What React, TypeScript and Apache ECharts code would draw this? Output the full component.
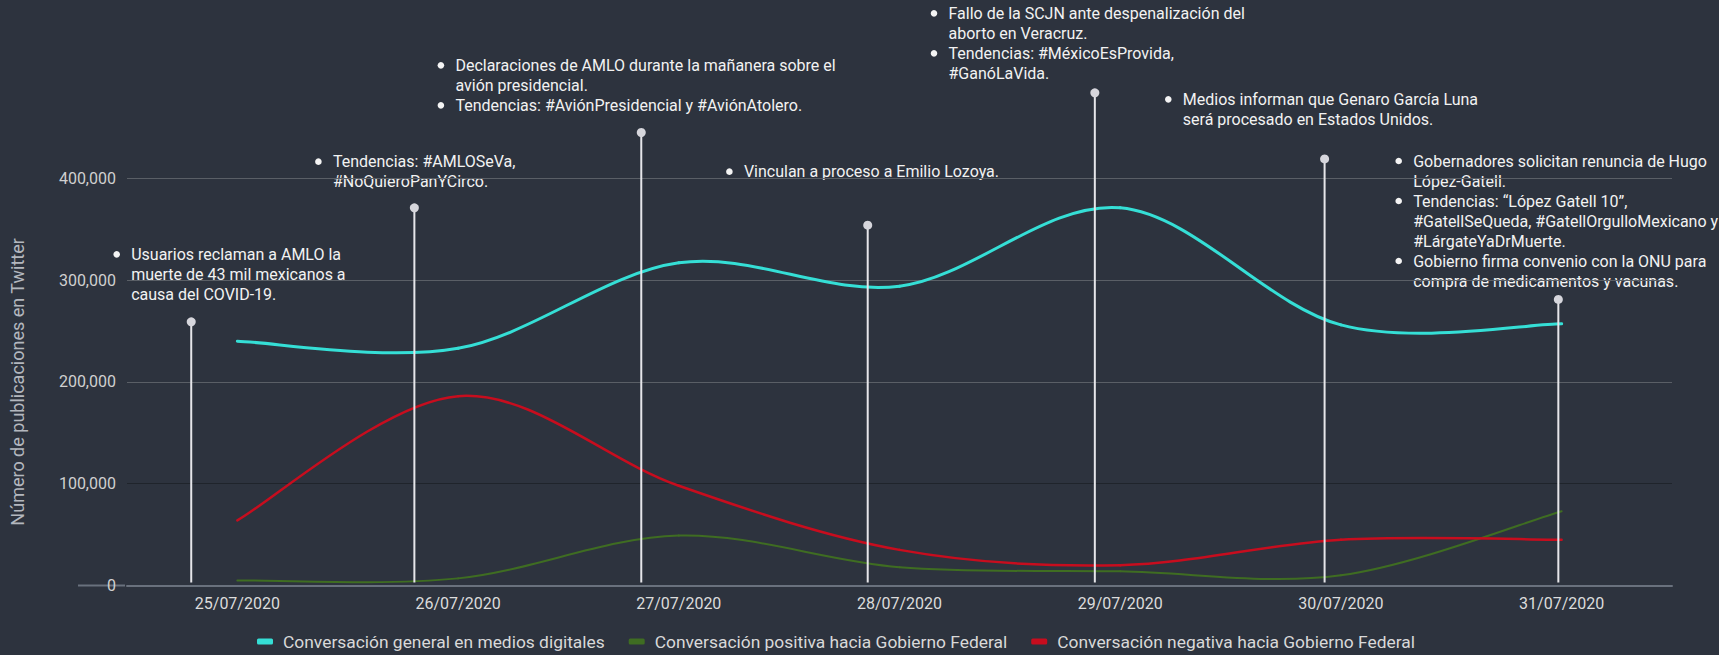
import React, { useEffect, useRef } from "react";
import * as echarts from "echarts";

const CATEGORIES = ["25/07/2020", "26/07/2020", "27/07/2020", "28/07/2020", "29/07/2020", "30/07/2020", "31/07/2020"];
const SERIES_NAMES = [
  "Conversación general en medios digitales",
  "Conversación positiva hacia Gobierno Federal",
  "Conversación negativa hacia Gobierno Federal",
];
const GENERAL = [240000, 233000, 317000, 294000, 371000, 256000, 257000];
const POSITIVE = [5000, 7000, 49000, 18000, 14000, 10000, 73000];
const NEGATIVE = [64000, 186000, 98000, 35000, 20000, 45000, 45000];

// event markers (lollipops): position in day units and height
const EVENT_X = [-0.209, 0.802, 1.83, 2.856, 3.885, 4.926, 5.985];
const EVENT_Y = [259000, 371000, 445000, 354000, 484000, 419000, 281000];

// each note: list of bullets, each bullet a list of lines
const NOTES: string[][][] = [
  [["Usuarios reclaman a AMLO la", "muerte de 43 mil mexicanos a", "causa del COVID-19."]],
  [["Tendencias: #AMLOSeVa,", "#NoQuieroPanYCirco."]],
  [
    ["Declaraciones de AMLO durante la mañanera sobre el", "avión presidencial."],
    ["Tendencias: #AviónPresidencial y #AviónAtolero."],
  ],
  [["Vinculan a proceso a Emilio Lozoya."]],
  [
    ["Fallo de la SCJN ante despenalización del", "aborto en Veracruz."],
    ["Tendencias: #MéxicoEsProvida,", "#GanóLaVida."],
  ],
  [["Medios informan que Genaro García Luna", "será procesado en Estados Unidos."]],
  [
    ["Gobernadores solicitan renuncia de Hugo", "López-Gatell."],
    ["Tendencias: “López Gatell 10”,", "#GatellSeQueda, #GatellOrgulloMexicano y", "#LárgateYaDrMuerte."],
    ["Gobierno firma convenio con la ONU para", "compra de medicamentos y vacunas."],
  ],
];

// layout (pixels) for the note blocks: bullet x, first line y
const NOTE_POS: [number, number][] = [
  [116.7, 254.3],
  [318.4, 161.7],
  [440.9, 65.3],
  [729.4, 171.7],
  [934, 13.3],
  [1168.3, 99.3],
  [1398.7, 161],
];

const COLORS = ["#35dfd6", "#3f6d22", "#c70d1e"];
const WIDTHS = [3, 2, 2.5];

const W = 1719;
const H = 655;
const FONT = "Roboto, 'Noto Sans', sans-serif";
const LINE_H = 20;

function buildNotes() {
  const els: any[] = [];
  NOTES.forEach((bullets, ni) => {
    const [bx, by] = NOTE_POS[ni];
    let li = 0;
    bullets.forEach((lines) => {
      lines.forEach((line, k) => {
        const y = by + li * LINE_H;
        if (k === 0) {
          els.push({
            type: "circle",
            shape: { cx: bx, cy: y, r: 3.3 },
            style: { fill: "#f4f4f4" },
            silent: true,
          });
        }
        els.push({
          type: "text",
          x: bx + 14.5,
          y,
          style: {
            text: line,
            fill: "#f2f2f2",
            font: `16px ${FONT}`,
            verticalAlign: "middle",
            align: "left",
          },
          silent: true,
        });
        li++;
      });
    });
  });
  return els;
}

// Cardinal (Catmull-Rom) spline through the series points, drawn with the axes' scales
function curveSeries(name: string, values: number[], color: string, width: number) {
  return {
    name,
    type: "custom",
    coordinateSystem: "cartesian2d",
    xAxisIndex: 0,
    yAxisIndex: 0,
    silent: true,
    z: 3,
    itemStyle: { color },
    encode: { x: 0, y: 1 },
    data: values.map((v, i) => [i, v]),
    renderItem: (params: any, api: any) => {
      if (params.dataIndex !== 0) return null;
      const pts = values.map((v, i) => api.coord([i, v]));
      const n = pts.length;
      const P = (i: number) => pts[Math.max(0, Math.min(n - 1, i))];
      const children: any[] = [];
      for (let i = 0; i < n - 1; i++) {
        const p0 = P(i - 1), p1 = P(i), p2 = P(i + 1), p3 = P(i + 2);
        children.push({
          type: "bezierCurve",
          shape: {
            x1: p1[0],
            y1: p1[1],
            x2: p2[0],
            y2: p2[1],
            cpx1: p1[0] + (p2[0] - p0[0]) / 6,
            cpy1: p1[1] + (p2[1] - p0[1]) / 6,
            cpx2: p2[0] - (p3[0] - p1[0]) / 6,
            cpy2: p2[1] - (p3[1] - p1[1]) / 6,
          },
          style: { stroke: color, lineWidth: width, fill: null, lineCap: "round" },
        });
      }
      return { type: "group", children };
    },
  };
}

export default function App() {
  const ref = useRef<HTMLDivElement>(null);
  useEffect(() => {
    if (!ref.current) return;
    const chart = echarts.init(ref.current, undefined, { renderer: "svg" });
    const gridLeft = 125;
    const gridBottom = 69.5;
    const option: any = {
      animation: false,
      backgroundColor: "#2d333e",
      textStyle: { fontFamily: FONT },
      grid: { left: gridLeft, right: 47, top: 178.3, bottom: gridBottom, containLabel: false },
      legend: {
        left: 252,
        top: 628,
        icon: "roundRect",
        itemWidth: 16,
        itemHeight: 6,
        itemGap: 24,
        textStyle: { color: "#d9d9d9", fontSize: 17.4, fontFamily: FONT, padding: [0, 0, 0, 5] },
        data: SERIES_NAMES,
      },
      xAxis: [
        {
          type: "category",
          data: CATEGORIES,
          boundaryGap: true,
          axisLine: { show: true, lineStyle: { color: "#69717d", width: 2 } },
          axisTick: { show: false },
          axisLabel: { color: "#dcdcdc", fontSize: 16, fontFamily: FONT, margin: 10 },
          splitLine: { show: false },
        },
        {
          type: "value",
          min: -0.5,
          max: 6.5,
          show: false,
        },
      ],
      yAxis: {
        type: "value",
        min: 0,
        max: 400000,
        interval: 100000,
        name: "Número de publicaciones en Twitter",
        nameLocation: "middle",
        nameGap: 101,
        nameTextStyle: { color: "#b3b7be", fontSize: 18, fontFamily: FONT },
        axisLine: { show: false },
        axisTick: { show: false },
        axisLabel: {
          color: "#d0d0d0",
          fontSize: 16,
          fontFamily: FONT,
          margin: 11,
          formatter: (v: number) => v.toLocaleString("en-US"),
        },
        splitLine: {
          show: true,
          showMinLine: false,
          lineStyle: { color: ["#1f242b", "#5a5f66", "#5a5f66", "#5a5f66"], width: 1 },
        },
      },
      graphic: [
        {
          type: "line",
          shape: { x1: 78, y1: H - gridBottom, x2: gridLeft, y2: H - gridBottom },
          style: { stroke: "#69717d", lineWidth: 2 },
          silent: true,
        },
        ...buildNotes(),
      ],
      series: [
        curveSeries(SERIES_NAMES[0], GENERAL, COLORS[0], WIDTHS[0]),
        curveSeries(SERIES_NAMES[1], POSITIVE, COLORS[1], WIDTHS[1]),
        curveSeries(SERIES_NAMES[2], NEGATIVE, COLORS[2], WIDTHS[2]),
        {
          type: "custom",
          xAxisIndex: 1,
          clip: false,
          silent: true,
          z: 4,
          data: EVENT_X.map((x, i) => [x, EVENT_Y[i]]),
          renderItem: (params: any, api: any) => {
            const x = api.value(0);
            const y = api.value(1);
            const top = api.coord([x, y]);
            const base = api.coord([x, 0]);
            return {
              type: "group",
              children: [
                {
                  type: "line",
                  shape: { x1: top[0], y1: top[1], x2: base[0], y2: base[1] - 3 },
                  style: { stroke: "#e6e6ea", lineWidth: 2 },
                },
                {
                  type: "circle",
                  shape: { cx: top[0], cy: top[1], r: 4.5 },
                  style: { fill: "#d6d6dc" },
                },
              ],
            };
          },
        },
      ],
    };
    chart.setOption(option);
    return () => chart.dispose();
  }, []);
  return (
    <div
      ref={ref}
      style={{ position: "fixed", left: 0, top: 0, width: W, height: H, background: "#2d333e" }}
    />
  );
}
